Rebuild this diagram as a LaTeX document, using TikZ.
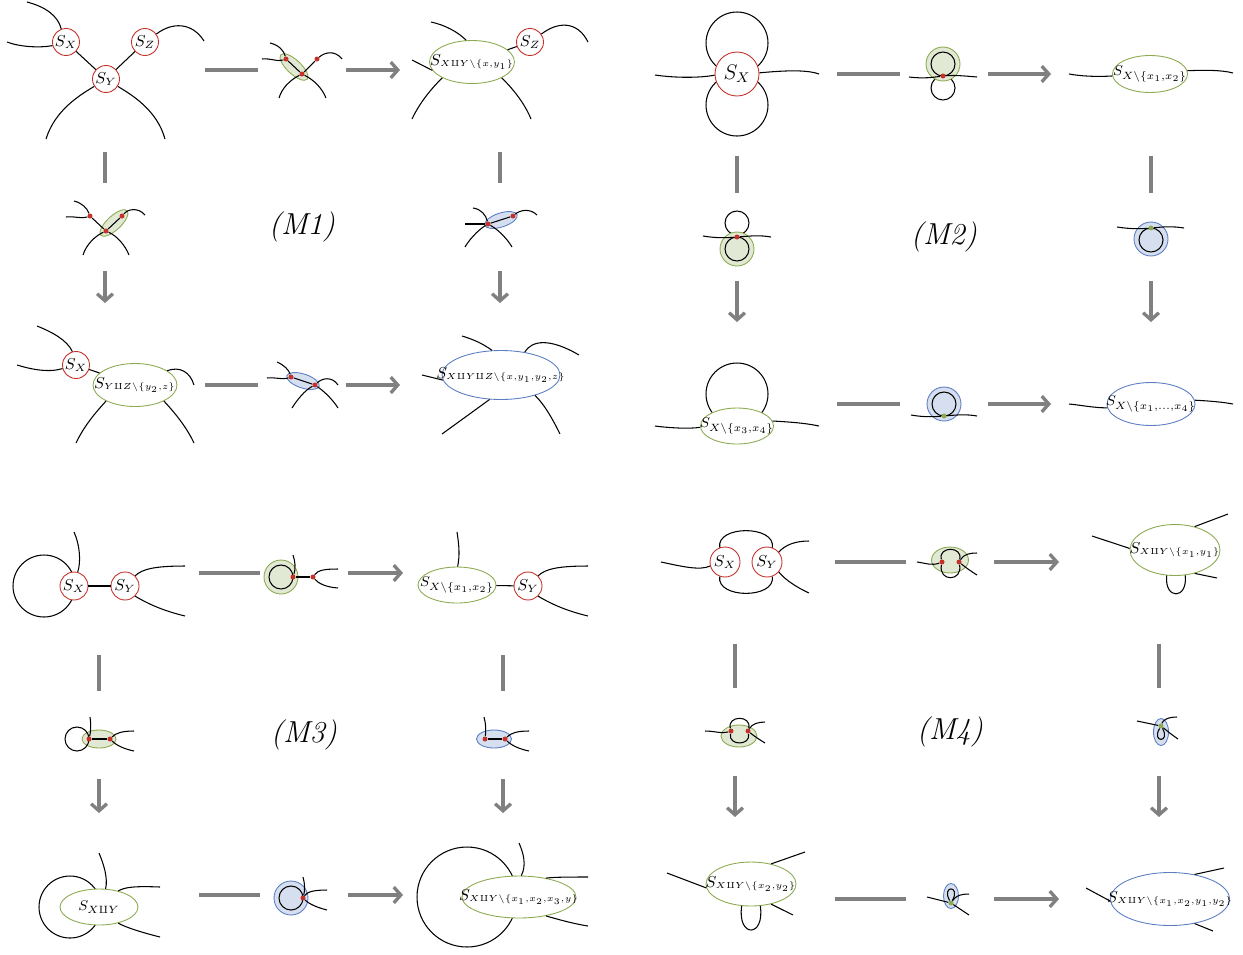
\documentclass[tikz,border=0pt]{standalone}
\usepackage{amsmath}
\usepackage{amssymb}
\usetikzlibrary{shapes.geometric,arrows.meta}

\definecolor{vred}{RGB}{196,50,42}
\definecolor{vgreen}{RGB}{140,170,80}
\definecolor{vgreenl}{RGB}{225,232,212}
\definecolor{vblue}{RGB}{92,126,194}
\definecolor{vbluel}{RGB}{214,223,240}

\newcommand{\lbl}[1]{\makebox[0pt]{#1}}
\newcommand{\slbl}[1]{\makebox[0pt]{$S_{\scriptscriptstyle #1}$}}

\tikzset{
  leg/.style={line width=0.6pt},
  rv/.style={circle, draw=vred, fill=white, line width=0.5pt, inner sep=0pt, minimum size=0.54cm, font=\small},
  gel/.style={ellipse, draw=vgreen, fill=white, line width=0.5pt, inner sep=0pt, font=\footnotesize},
  bel/.style={ellipse, draw=vblue, fill=white, line width=0.5pt, inner sep=0pt, font=\footnotesize},
  long/.style={font=\small},
  gsh/.style={ellipse, draw=vgreen, fill=vgreenl, line width=0.5pt, inner sep=0pt},
  bsh/.style={ellipse, draw=vblue, fill=vbluel, line width=0.5pt, inner sep=0pt},
  rdot/.style={circle, fill=vred, inner sep=0pt, minimum size=0.1cm},
  gdot/.style={circle, fill=vgreen, inner sep=0pt, minimum size=0.1cm},
  link/.style={draw=gray, line width=1.9pt},
  hline/.style={link, shorten <=2cm, shorten >=0.88cm},
  harr/.style={link, -{Straight Barb[length=4pt,width=9pt]}, shorten <=0.88cm, shorten >=2cm},
  vline/.style={link, shorten <=1.64cm, shorten >=0.88cm},
  varr/.style={link, -{Straight Barb[length=4pt,width=9pt]}, shorten <=0.88cm, shorten >=1.64cm},
  mlabel/.style={font=\LARGE\itshape}
}

\begin{document}
\begin{tikzpicture}[x=0.02cm, y=-0.02cm]
\useasboundingbox (0,0) rectangle (1243,954);

% Moves
\foreach \q/\ca/\cb/\cc/\ra/\rb/\rc in {1/105/302/500/70/227/385, 2/737/944/1151/74/237/404, 3/99/304/503/573/735/895, 4/735/950/1159/562/732/899}{
  \coordinate (ta\q) at (\ca,\ra);
  \coordinate (tb\q) at (\cb,\ra);
  \coordinate (tc\q) at (\cc,\ra);
  \coordinate (ma\q) at (\ca,\rb);
  \coordinate (mc\q) at (\cc,\rb);
  \coordinate (ba\q) at (\ca,\rc);
  \coordinate (bb\q) at (\cb,\rc);
  \coordinate (bc\q) at (\cc,\rc);
  \node[mlabel] (lab\q) at (\cb,\rb) {(M\q)};
  \draw[hline] (ta\q) -- (tb\q);
  \draw[harr] (tb\q) -- (tc\q);
  \draw[hline] (ba\q) -- (bb\q);
  \draw[harr] (bb\q) -- (bc\q);
  \draw[vline] (ta\q) -- (ma\q);
  \draw[varr] (ma\q) -- (ba\q);
  \draw[vline] (tc\q) -- (mc\q);
  \draw[varr] (mc\q) -- (bc\q);
}

% ---------- (M1) ----------
% Nodes
\node[rv] (aX) at (66,42) {$S_X$};
\node[rv] (aZ) at (145,42) {$S_Z$};
\node[rv] (aY) at (106,79) {$S_Y$};
% Lines
\draw[leg] (aX) -- (aY);
\draw[leg] (aZ) -- (aY);
\draw[leg] (aX.110) .. controls (58,16) and (46,7) .. (27,2);
\draw[leg] (aX.195) .. controls (40,48) and (20,47) .. (7,42);
\draw[leg] (aZ.35) .. controls (172,22) and (192,22) .. (204,41);
\draw[leg] (aY.212) .. controls (80,95) and (55,110) .. (46,139);
\draw[leg] (aY.-32) .. controls (132,95) and (157,110) .. (165,139);

\node[gsh, minimum width=0.72cm, minimum height=0.28cm, rotate=-43] (aE1) at (294,67) {};
\node[rdot] (a1x) at (286,59) {};
\node[rdot] (a1y) at (302,74) {};
\node[rdot] (a1z) at (317,59) {};
\draw[leg] (a1x) -- (a1y) -- (a1z);
\draw[leg] (a1x) .. controls (284,51) and (279,45) .. (270,43);
\draw[leg] (a1x) .. controls (278,62) and (270,58) .. (262,59);
\draw[leg] (a1z) .. controls (325,52) and (335,50) .. (342,59);
\draw[leg] (a1y) .. controls (290,80) and (282,88) .. (279,98);
\draw[leg] (a1y) .. controls (314,80) and (322,88) .. (326,98);

\node[gel, long, minimum width=1.7cm, minimum height=0.86cm] (aR1) at (472,62) {\slbl{X\amalg Y\setminus\{x,y_1\}}};
\node[rv] (aZ1) at (530,42) {$S_Z$};
\draw[leg] (aR1) -- (aZ1);
\draw[leg] (aR1.105) .. controls (458,32) and (445,25) .. (431,22);
\draw[leg] (aR1.192) -- (412,60);
\draw[leg] (aR1.208) .. controls (432,88) and (420,102) .. (412,119);
\draw[leg] (aR1.-28) .. controls (512,88) and (524,102) .. (531,119);
\draw[leg] (aZ1.35) .. controls (557,22) and (577,20) .. (588,42);

\node[gsh, minimum width=0.72cm, minimum height=0.28cm, rotate=43] (aE2) at (114,223) {};
\node[rdot] (a2x) at (90,216) {};
\node[rdot] (a2y) at (106,231) {};
\node[rdot] (a2z) at (122,216) {};
\draw[leg] (a2x) -- (a2y) -- (a2z);
\draw[leg] (a2x) .. controls (87,208) and (82,203) .. (74,201);
\draw[leg] (a2x) .. controls (82,219) and (74,216) .. (66,217);
\draw[leg] (a2z) .. controls (128,209) and (138,207) .. (145,215);
\draw[leg] (a2y) .. controls (95,236) and (86,245) .. (83,255);
\draw[leg] (a2y) .. controls (117,236) and (125,245) .. (129,255);

\node[bsh, minimum width=0.68cm, minimum height=0.28cm, rotate=18] (aE3) at (501,220) {};
\node[rdot] (a3x) at (488,224) {};
\node[rdot] (a3z) at (513,216) {};
\draw[leg] (a3x) -- (a3z);
\draw[leg] (a3x) .. controls (486,215) and (481,209) .. (473,208);
\draw[leg] (a3x) -- (465,224);
\draw[leg] (a3x) .. controls (478,230) and (469,240) .. (465,247);
\draw[leg] (a3x) .. controls (499,230) and (508,240) .. (512,247);
\draw[leg] (a3z) .. controls (520,210) and (530,208) .. (537,215);

\node[rv] (aX2) at (76,365) {$S_X$};
\node[gel, long, minimum width=1.68cm, minimum height=0.86cm] (aR2) at (135,385) {\slbl{Y\amalg Z\setminus\{y_2,z\}}};
\draw[leg] (aX2) -- (aR2);
\draw[leg] (aX2.105) .. controls (67,340) and (52,332) .. (37,326);
\draw[leg] (aX2.195) .. controls (48,373) and (30,369) .. (17,365);
\draw[leg] (aR2.24) .. controls (180,366) and (190,372) .. (194,385);
\draw[leg] (aR2.209) .. controls (96,412) and (84,426) .. (76,443);
\draw[leg] (aR2.-29) .. controls (174,412) and (186,426) .. (194,443);

\node[bsh, minimum width=0.68cm, minimum height=0.28cm, rotate=-18] (aE4) at (303,381) {};
\node[rdot] (a4x) at (291,377) {};
\node[rdot] (a4y) at (315,385) {};
\draw[leg] (a4x) -- (a4y);
\draw[leg] (a4x) .. controls (289,370) and (284,365) .. (277,362);
\draw[leg] (a4x) .. controls (283,380) and (275,377) .. (267,378);
\draw[leg] (a4y) .. controls (322,378) and (332,376) .. (338,385);
\draw[leg] (a4y) .. controls (305,390) and (297,400) .. (292,408);
\draw[leg] (a4y) .. controls (325,392) and (333,400) .. (338,408);

\node[bel, long, minimum width=2.36cm, minimum height=0.98cm] (aR3) at (501,375) {\slbl{X\amalg Y\amalg Z\setminus\{x,y_1,y_2,z\}}};
\draw[leg] (aR3.110) .. controls (482,343) and (472,339) .. (462,336);
\draw[leg] (aR3.44) .. controls (532,340) and (550,338) .. (579,355);
\draw[leg] (aR3.185) -- (422,375);
\draw[leg] (aR3.245) -- (442,434);
\draw[leg] (aR3.-31) .. controls (545,405) and (553,420) .. (560,434);

% ---------- (M2) ----------
\draw[leg] (737,43) circle[radius=0.62cm] (737,105) circle[radius=0.62cm];
\node[rv, minimum size=0.88cm, font=\large] (bX) at (737,74) {$S_X$};
\draw[leg] (bX.183) .. controls (700,78) and (675,78) .. (655,75);
\draw[leg] (bX.3) .. controls (780,71) and (805,69) .. (819,74);

\draw[leg] (943,88) circle[radius=0.24cm];
\node[gsh, circle, minimum size=0.68cm] (bE1) at (943,64) {};
\draw[leg] (bE1.center) circle[radius=0.24cm];
\node[rdot] (b1x) at (943,76) {};
\draw[leg] (909,77) .. controls (925,79) and (935,77) .. (b1x);
\draw[leg] (b1x) .. controls (955,75) and (965,76) .. (977,77);

\node[gel, minimum width=1.5cm, minimum height=0.74cm] (bR1) at (1150,74) {\lbl{$S_{X\setminus\{x_1,x_2\}}$}};
\draw[leg] (bR1.183) .. controls (1095,77) and (1080,76) .. (1069,74);
\draw[leg] (bR1.5) .. controls (1205,70) and (1222,70) .. (1233,73);

\draw[leg] (737,223) circle[radius=0.24cm];
\node[gsh, circle, minimum size=0.68cm] (bE2) at (737,249) {};
\draw[leg] (bE2.center) circle[radius=0.24cm];
\node[rdot] (b2x) at (737,237) {};
\draw[leg] (703,236) .. controls (715,238) and (725,238) .. (b2x);
\draw[leg] (b2x) .. controls (750,236) and (760,235) .. (771,237);

\node[bsh, circle, minimum size=0.68cm] (bE3) at (1151,239) {};
\draw[leg] (1151,240) circle[radius=0.24cm];
\node[gdot] (b3x) at (1151,228) {};
\draw[leg] (1117,227) .. controls (1130,229) and (1140,229) .. (b3x);
\draw[leg] (b3x) .. controls (1162,227) and (1172,226) .. (1184,228);

\draw[leg] (737,394) circle[radius=0.62cm];
\node[gel, minimum width=1.46cm, minimum height=0.72cm] (bR2) at (737,426) {\lbl{$S_{X\setminus\{x_3,x_4\}}$}};
\draw[leg] (bR2.182) .. controls (690,429) and (670,428) .. (655,426);
\draw[leg] (bR2.8) .. controls (790,422) and (805,423) .. (819,426);

\node[bsh, circle, minimum size=0.68cm] (bE4) at (944,404) {};
\draw[leg] (bE4.center) circle[radius=0.24cm];
\node[gdot] (b4x) at (944,416) {};
\draw[leg] (911,415) .. controls (922,417) and (932,417) .. (b4x);
\draw[leg] (b4x) .. controls (956,415) and (966,414) .. (977,416);

\node[bel, minimum width=1.76cm, minimum height=0.86cm] (bR3) at (1151,404) {\lbl{$S_{X\setminus\{x_1,\ldots,x_4\}}$}};
\draw[leg] (bR3.185) .. controls (1095,408) and (1080,405) .. (1069,404);
\draw[leg] (bR3.5) .. controls (1210,401) and (1222,402) .. (1233,404);

% ---------- (M3) ----------
\draw[leg] (44,586) circle[radius=0.62cm];
\node[rv, minimum size=0.56cm] (cX) at (74,586) {$S_X$};
\node[rv, minimum size=0.56cm] (cY) at (125,586) {$S_Y$};
\draw[leg] (cX) -- (cY);
\draw[leg] (cX.75) .. controls (81,562) and (80,545) .. (74,532);
\draw[leg] (cY.45) .. controls (142,569) and (155,566) .. (185,566);
\draw[leg] (cY.-45) .. controls (145,602) and (160,610) .. (185,616);

\node[gsh, circle, minimum size=0.68cm] (cE1) at (281,577) {};
\draw[leg] (cE1.center) circle[radius=0.24cm];
\node[rdot] (c1x) at (293,577) {};
\node[rdot] (c1y) at (313,577) {};
\draw[leg] (c1x) -- (c1y);
\draw[leg] (c1x) .. controls (296,568) and (295,561) .. (293,555);
\draw[leg] (c1y) .. controls (318,570) and (325,569) .. (338,569);
\draw[leg] (c1y) .. controls (318,583) and (325,587) .. (338,588);

\node[gel, minimum width=1.56cm, minimum height=0.72cm] (cR1) at (457,585) {\lbl{$S_{X\setminus\{x_1,x_2\}}$}};
\node[rv, minimum size=0.56cm] (cY1) at (528,586) {$S_Y$};
\draw[leg] (cR1) -- (cY1);
\draw[leg] (cR1.88) .. controls (460,555) and (459,545) .. (457,532);
\draw[leg] (cY1.45) .. controls (545,569) and (558,566) .. (588,566);
\draw[leg] (cY1.-45) .. controls (548,602) and (563,610) .. (588,616);

\node[gsh, minimum width=0.68cm, minimum height=0.36cm] (cE2) at (99,739) {};
\draw[leg] (77,739) circle[radius=0.24cm];
\node[rdot] (c2x) at (89,739) {};
\node[rdot] (c2y) at (110,739) {};
\draw[leg] (c2x) -- (c2y);
\draw[leg] (c2x) .. controls (91,731) and (91,723) .. (90,717);
\draw[leg] (c2y) .. controls (116,733) and (122,731) .. (134,731);
\draw[leg] (c2y) .. controls (116,745) and (124,749) .. (134,751);

\node[bsh, minimum width=0.7cm, minimum height=0.36cm] (cE3) at (494,739) {};
\node[rdot] (c3x) at (485,739) {};
\node[rdot] (c3y) at (505,739) {};
\draw[leg] (c3x) -- (c3y);
\draw[leg] (c3x) .. controls (486,731) and (486,724) .. (484,717);
\draw[leg] (c3y) .. controls (511,733) and (517,731) .. (529,731);
\draw[leg] (c3y) .. controls (511,745) and (519,749) .. (529,751);

\draw[leg] (70,907) circle[radius=0.62cm];
\node[gel, minimum width=1.56cm, minimum height=0.72cm] (cR2) at (99,907) {\lbl{$S_{X\amalg Y}$}};
\draw[leg] (cR2.70) .. controls (108,878) and (104,865) .. (99,853);
\draw[leg] (cR2.40) .. controls (125,887) and (135,886) .. (160,887);
\draw[leg] (cR2.-40) .. controls (125,927) and (140,932) .. (160,937);

\node[bsh, circle, minimum size=0.68cm] (cE4) at (291,898) {};
\draw[leg] (cE4.center) circle[radius=0.24cm];
\node[rdot] (c4x) at (303,898) {};
\draw[leg] (c4x) .. controls (305,890) and (305,884) .. (303,877);
\draw[leg] (c4x) .. controls (307,892) and (313,890) .. (327,890);
\draw[leg] (c4x) .. controls (308,903) and (315,907) .. (327,910);

\draw[leg] (467,897) circle[radius=1cm];
\node[gel, long, minimum width=2.28cm, minimum height=0.84cm] (cR3) at (519,897) {\slbl{X\amalg Y\setminus\{x_1,x_2,x_3,y\}}};
\draw[leg] (cR3.84) .. controls (527,865) and (523,852) .. (519,843);
\draw[leg] (cR3.35) .. controls (555,877) and (570,877) .. (588,877);
\draw[leg] (cR3.-35) .. controls (560,920) and (575,924) .. (588,926);

% ---------- (M4) ----------
\node[rv, minimum size=0.6cm] (dX) at (725,562) {$S_X$};
\node[rv, minimum size=0.6cm] (dY) at (767,562) {$S_Y$};
\draw[leg] (dX.110) .. controls (716,525) and (776,525) .. (dY.70);
\draw[leg] (dX.250) .. controls (716,599) and (776,599) .. (dY.290);
\draw[leg] (dX.195) .. controls (700,571) and (680,566) .. (661,562);
\draw[leg] (dY.40) .. controls (785,545) and (795,541) .. (809,541);
\draw[leg] (dY.-40) .. controls (785,580) and (798,588) .. (809,593);

\node[gsh, minimum width=0.74cm, minimum height=0.52cm] (dE1) at (950,560) {};
\node[rdot] (d1x) at (942,562) {};
\node[rdot] (d1y) at (959,562) {};
\draw[leg] (d1x) .. controls (938,546) and (963,546) .. (d1y);
\draw[leg] (d1x) .. controls (938,582) and (963,582) .. (d1y);
\draw[leg] (d1x) .. controls (932,566) and (925,563) .. (917,562);
\draw[leg] (d1y) .. controls (964,554) and (970,553) .. (977,553);
\draw[leg] (d1y) .. controls (965,567) and (972,572) .. (977,575);

\node[gel, long, minimum width=1.8cm, minimum height=1.02cm] (dR1) at (1175,550) {\slbl{X\amalg Y\setminus\{x_1,y_1\}}};
\draw[leg] (dR1.178) -- (1092,536);
\draw[leg] (dR1.50) -- (1228,514);
\draw[leg] (dR1.-50) -- (1217,578);
\draw[leg] (dR1.252) .. controls (1164,600) and (1188,600) .. (dR1.292);

\node[gsh, minimum width=0.72cm, minimum height=0.44cm] (dE2) at (739,736) {};
\node[rdot] (d2x) at (731,731) {};
\node[rdot] (d2y) at (748,731) {};
\draw[leg] (d2x) .. controls (727,715) and (752,715) .. (d2y);
\draw[leg] (d2x) .. controls (728,746) and (751,746) .. (d2y);
\draw[leg] (d2x) .. controls (722,734) and (715,731) .. (705,731);
\draw[leg] (d2y) .. controls (752,724) and (758,722) .. (765,722);
\draw[leg] (d2y) .. controls (754,736) and (760,740) .. (765,743);

\node[bsh, minimum width=0.3cm, minimum height=0.54cm] (dE3) at (1161,732) {};
\node[gdot] (d3x) at (1161,726) {};
\draw[leg] (d3x) .. controls (1151,743) and (1171,743) .. (d3x);
\draw[leg] (d3x) -- (1137,721);
\draw[leg] (d3x) .. controls (1166,730) and (1172,735) .. (1178,739);
\draw[leg] (d3x) .. controls (1163,720) and (1168,717) .. (1177,717);

\node[gel, long, minimum width=1.8cm, minimum height=0.88cm] (dR2) at (751,884) {\slbl{X\amalg Y\setminus\{x_2,y_2\}}};
\draw[leg] (dR2.185) -- (667,873);
\draw[leg] (dR2.45) -- (805,852);
\draw[leg] (dR2.-45) -- (793,915);
\draw[leg] (dR2.247) .. controls (737,938) and (765,938) .. (dR2.293);

\node[bsh, minimum width=0.3cm, minimum height=0.5cm] (dE4) at (951,896) {};
\node[gdot] (d4x) at (951,903) {};
\draw[leg] (d4x) .. controls (941,885) and (961,885) .. (d4x);
\draw[leg] (d4x) -- (927,897);
\draw[leg] (d4x) -- (969,915);
\draw[leg] (d4x) .. controls (955,897) and (959,894) .. (969,894);

\node[bel, long, minimum width=2.38cm, minimum height=1.06cm] (dR3) at (1170,899) {\slbl{X\amalg Y\setminus\{x_1,x_2,y_1,y_2\}}};
\draw[leg] (dR3.182) -- (1086,888);
\draw[leg] (dR3.45) -- (1224,868);
\draw[leg] (dR3.-45) -- (1213,931);
\end{tikzpicture}
\end{document}
